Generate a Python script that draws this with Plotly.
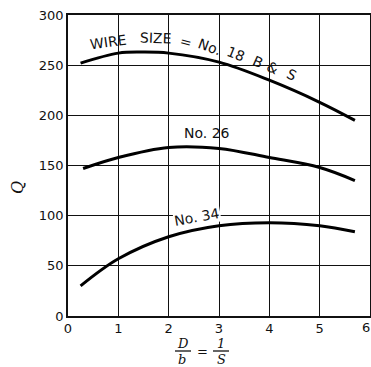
import plotly.graph_objects as go

# Data
x18 = [0.25, 1.0, 1.5, 2.0, 3.0, 4.0, 5.0, 5.7]
q18 = [252, 262, 263, 262, 253, 235, 213, 195]
x26 = [0.3, 1.0, 2.0, 3.0, 4.0, 5.0, 5.7]
q26 = [147, 158, 168, 167, 158, 148, 135]
x34 = [0.25, 1.0, 2.0, 3.0, 4.0, 5.0, 5.7]
q34 = [30, 57, 79, 90, 93, 90, 84]
x_ticks = [0, 1, 2, 3, 4, 5]
y_ticks = [0, 50, 100, 150, 200, 250, 300]

font_fam = "DejaVu Sans, Arial, sans-serif"
serif = "DejaVu Serif, serif"

fig = go.Figure()
for xs, qs in [(x18, q18), (x26, q26), (x34, q34)]:
    fig.add_trace(go.Scatter(x=xs, y=qs, mode="lines",
                             line=dict(color="black", width=3, shape="spline", smoothing=1.0),
                             showlegend=False, hoverinfo="skip"))

axis_common = dict(showgrid=True, gridcolor="#111", gridwidth=1.3,
                   showline=True, linecolor="#111", linewidth=1.5, mirror=True,
                   zeroline=False, ticks="", automargin=False,
                   tickfont=dict(family=font_fam, size=13, color="#111"))

fig.update_layout(
    width=371, height=367,
    margin=dict(l=68, r=1, t=15, b=51),
    paper_bgcolor="white", plot_bgcolor="white",
    xaxis=dict(range=[0, 6], tickvals=x_ticks, ticktext=[str(v) for v in x_ticks], **axis_common),
    yaxis=dict(range=[0, 300], tickvals=y_ticks, ticktext=[str(v) for v in y_ticks], **axis_common),
)

# Curve labels (curved text approximated by rotated pieces)
pieces = [
    ("WIRE", 0.8, 273, -8),
    ("SIZE", 1.74, 277, 2),
    ("=", 2.34, 273, 15),
    ("No.", 2.82, 268, 20),
    ("18", 3.34, 261, 22),
    ("B", 3.78, 253, 24),
    ("&", 4.07, 247, 25),
    ("S", 4.45, 240, 26),
]
for t, xx, yy, ang in pieces:
    fig.add_annotation(x=xx, y=yy, text=t, showarrow=False, textangle=ang,
                       xanchor="center", yanchor="middle",
                       font=dict(family=font_fam, size=14, color="#111"))

fig.add_annotation(x=2.76, y=182, text="No. 26", showarrow=False,
                   xanchor="center", yanchor="middle",
                   font=dict(family=font_fam, size=14, color="#111"))
fig.add_annotation(x=2.56, y=99, text="No. 34", showarrow=False, textangle=-10,
                   xanchor="center", yanchor="middle",
                   bgcolor="white", borderpad=0,
                   font=dict(family=font_fam, size=14, color="#111"))

# Axis titles (pixel positions converted to paper fractions)
W, H, L, T = 302, 301, 68, 15
def px(x):
    return (x - L) / W
def py(y):
    return 1 - (y - T) / H

fig.add_annotation(xref="paper", yref="paper", x=px(17), y=py(188), text="<i>Q</i>",
                   showarrow=False, textangle=-90, xanchor="center", yanchor="middle",
                   font=dict(family=serif, size=16, color="#111"))
# fraction D/b = 1/S
for t, xx, yy in [("<i>D</i>", 183, 343), ("<i>b</i>", 182, 359), ("=", 202, 351),
                  ("<i>1</i>", 221, 343), ("<i>S</i>", 221, 359)]:
    fig.add_annotation(xref="paper", yref="paper", x=px(xx), y=py(yy), text=t,
                       showarrow=False, xanchor="center", yanchor="middle",
                       font=dict(family=serif, size=13, color="#111"))
for x0, x1 in [(175, 191), (213, 229)]:
    fig.add_shape(type="line", xref="paper", yref="paper", x0=px(x0), x1=px(x1),
                  y0=py(351), y1=py(351), line=dict(color="#111", width=1.3))

# "6" tick label at the right edge (kept inside the picture)
fig.add_annotation(xref="paper", yref="paper", x=px(366), y=py(327), text="6",
                   showarrow=False, xanchor="center", yanchor="middle",
                   font=dict(family=font_fam, size=13, color="#111"))

fig.write_html("out.html", config={"displayModeBar": False},
               post_script="document.body.style.margin='0';document.body.style.overflow='hidden';")
